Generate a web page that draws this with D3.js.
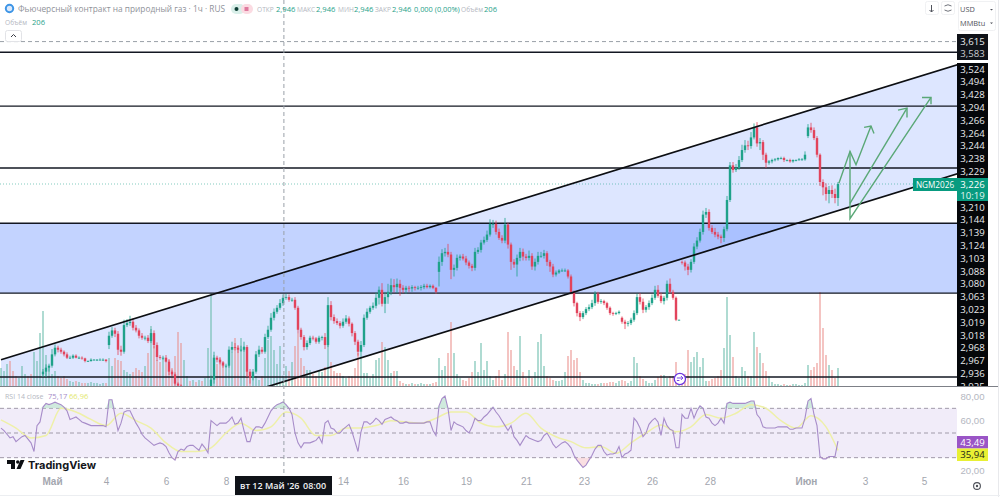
<!DOCTYPE html>
<html lang="ru">
<head>
<meta charset="utf-8">
<title>NGM2026</title>
<script src="https://cdn.jsdelivr.net/npm/d3@7/dist/d3.min.js"></script>
<style>
html,body{margin:0;padding:0;background:#fff;overflow:hidden}
svg{display:block;font-family:"Open Sans","Noto Sans",sans-serif}
</style>
</head>
<body>
<svg id="chart" width="1000" height="497"></svg>
<script>
// Hourly closes per trading session, in thousandths of a dollar per MMBtu
const closesEarly = [2905,2908,2912,2910,2906,2904,2908,2912,2915,2910,2906,2908,2912,2918];
const closesSessionA = [2944,2950,2953,2970,2980,2977,2974,2970,2965,2965,2968,2965,2965,2964,2960,2960,2962,2962,2962,2962,2962,2960];
const closesSessionB = [2998,3006,3001,2977,2974,3014,3017,3019,3010,3006,2998,2995,2995,2990,3002,2984,2966,2965,2965,2959,2944,2940,2926,2923,2914,2914,2914,2911,2914,2911,2911,2910,2914,2917,2932,2965,2962,2958,2953,2953,2977,2981,2980,2977,2977,2981,2944,2935,2944,2970,2977,2974,2996,3007,3025,3034,3040,3047,3055,3056,3052,3052,3040,3007,2996,2981,2987,2995,2994,2989,2995,2996,2984,3044,3026,3020,3017,3013,3019,3024,3016,3002,2989,2974,2984,3025,3034,3040,3043,3055,3067,3046,3056,3064,3074,3071,3076,3070,3067,3070,3069,3071,3070,3070,3071,3073,3071,3073,3070,3064];
const closesSessionC = [3109,3122,3124,3120,3097,3100,3115,3117,3114,3108,3103,3100,3124,3127,3138,3142,3150,3166,3166,3154,3145,3141,3165,3135,3109,3105,3115,3124,3117,3115,3118,3102,3109,3118,3118,3122,3109,3102,3090,3093,3096,3096,3096,3087,3064,3047,3032,3026,3032,3038,3041,3047,3061,3049,3050,3047,3040,3032,3031,3032,3034];
const closesSessionD = [3019,3016,3017,3022,3032,3056,3049,3037,3041,3047,3055,3067,3058,3050,3055,3076,3064,3055,3022,3022];
const closesSessionE = [3108,3102,3097,3109,3132,3141,3154,3180,3184,3160,3154,3150,3147,3145,3158,3202,3254,3247,3250,3262,3277,3284,3283,3296,3311,3287,3289,3270,3258,3260,3262,3263,3265,3265,3262,3262,3260,3262,3262,3263,3263,3270];
const closesSessionF = [3311,3307,3295,3270,3229,3221,3211,3217,3211,3205,3226];
const sessionOpens = [2903,2940,2984,3094,3025,3109,3298];

const wickHigh = [3,2,4,2,3,2,3,2,3,4,2,3,4,3,
4,5,3,8,5,3,3,2,3,3,2,2,2,2,1,1,2,1,1,2,2,1,
6,5,4,4,6,8,6,9,5,4,3,4,3,4,6,4,4,3,3,4,4,3,3,2,2,2,2,2,2,2,2,2,2,2,6,9,3,4,2,3,5,8,6,4,6,8,3,4,4,5,6,4,5,6,7,5,4,6,5,5,4,3,4,3,3,3,4,3,3,2,3,2,6,12,6,4,4,3,5,5,3,2,3,3,6,5,5,3,5,8,5,10,8,12,10,9,8,6,4,3,3,3,2,3,3,3,3,2,2,1,
8,6,6,12,4,5,5,3,4,4,3,3,6,4,4,5,6,7,6,5,5,4,10,3,3,4,5,6,5,4,8,4,5,6,6,5,3,3,4,3,2,3,3,2,3,2,2,3,3,3,4,5,4,3,3,2,2,2,2,2,2,
2,3,3,3,4,5,6,5,3,4,5,6,7,5,3,5,8,3,2,0,
2,3,4,4,5,5,5,6,6,4,4,6,4,3,4,6,5,5,6,6,8,8,7,8,6,8,6,3,3,2,2,2,1,2,2,1,2,1,1,2,2,5,
5,7,4,3,2,4,6,6,7,8,3];
const wickLow = [3,2,3,4,2,3,2,3,4,2,3,3,2,4,
4,8,6,3,3,4,3,3,2,2,2,1,2,2,2,1,1,1,2,1,2,2,
6,3,5,8,6,3,3,4,4,3,4,3,4,3,3,5,6,3,3,3,5,3,3,3,2,2,2,2,2,2,2,2,2,2,8,6,4,3,3,3,3,4,4,5,3,3,8,9,4,3,4,3,3,3,3,4,3,3,4,3,3,3,3,5,4,5,4,3,3,3,3,4,6,3,5,4,3,4,3,3,4,5,5,6,8,3,3,3,3,4,10,4,14,10,5,8,9,12,5,6,5,5,4,3,4,3,2,2,2,3,
22,6,5,4,14,10,4,4,3,4,4,5,4,3,4,3,3,3,6,4,3,4,4,6,12,5,18,5,6,4,4,5,6,4,3,4,6,8,4,3,2,2,2,3,4,5,5,6,3,3,3,3,4,3,3,3,3,3,3,2,2,
3,8,4,3,3,3,4,5,4,4,3,3,3,3,5,4,3,3,2,1,
3,6,8,4,3,4,3,4,5,4,3,4,4,8,6,3,3,4,3,3,3,4,6,4,3,5,10,8,8,3,3,2,2,2,3,2,2,2,2,1,2,2,
3,4,3,4,6,12,10,14,6,8,12];

// Contracts traded per bar
const volumes = [360,300,440,500,300,200,160,400,240,200,240,680,500,1060,
1500,620,400,240,300,200,160,200,140,100,80,100,80,60,60,60,80,60,60,40,60,60,
560,400,560,520,500,320,280,240,280,360,320,280,400,660,1200,800,520,480,560,440,520,360,600,1080,860,520,200,100,120,80,120,100,160,760,1860,620,440,560,400,400,520,680,960,800,960,800,680,280,160,200,120,200,560,920,1000,720,440,800,206,400,300,480,800,1060,
560,400,320,320,240,200,300,280,380,1200,480,300,260,260,200,160,200,200,360,660,580,260,260,160,240,520,560,880,780,520,260,300,300,100,60,40,40,60,40,40,60,40,40,40,60,80,
560,320,400,660,1280,660,240,160,120,100,160,280,500,280,860,320,500,200,120,200,320,120,240,1080,720,400,320,1000,280,160,320,160,280,880,1040,400,200,160,120,100,100,120,280,600,720,520,560,280,120,60,60,40,40,40,
60,60,60,80,80,60,100,120,100,60,100,580,460,200,140,100,60,60,120,180,220,220,160,200,200,480,160,160,240,720,480,580,680,380,560,100,100,140,160,200,320,760,1780,1020,580,200,160,380,300,200,200,1080,780,660,460,300,200,80,40,40,20,40,20,20,40,40,20,20,60,420,320,380,460,1880,1160,620,420,320,160,360];

// RSI(14) per bar
const rsiValues = [54,52,49,46,47,43,45,47,48,45,42,35,56,59,71,74,73,74,75,74,73,71,68,61,62,63,61,59,58,57,56,56,56,56,56,55,77,77,64,52,58,67,68,68,63,58,54,49,46,44,42,40,41,42,41,39,34,30,28,35,37,36,39,40,40,38,36,41,38,34,60,58,56,58,58,58,60,63,57,58,62,52,43,43,52,55,55,54,58,63,68,71,73,74,75.17,73,70,65,50,42,
38,42,42,42,43,44,47,42,58,60,54,53,50,50,53,55,57,51,43,35,51,59,59,57,59,62,60,57,61,62,63,61,60,58,58,59,58,58,58,58,58,58,59,59,52,48,72,78,80,70,52,59,57,56,55,52,50,55,62,60,60,63,65,68,71,67,64,60,56,52,56,47,44,40,44,48,46,45,44,43,44,48,50,46,41,38,40,42,43,41,38,32,28,25,22,24,28,32,37,40,
40,35,32,33,33,34,39,30,33,34,36,62,59,54,47,50,57,60,62,59,48,62,56,53,52,38,38,65,62,62,70,62,68,72,70,63,62,58,56,58,62,58,74,75,74,74,74,74,74,75,76,76,65,62,55,54,54,54,54,55,55,55,55,53,53,54,54,54,62,76,78,65,56,31,29,29,31,31,31,43.49];

// Moving average of the RSI, sampled every fifth bar, with the newest bar last
const rsiMaValues = [60.6,54,46,48,70,67,61,56,66,60,54,42,35,35,38,50,58,52,55,66.96,62,48,48,54,54,56,60,59,58,62,67,67,58,55,58,66,54,47,43,38,39,33.5,42,50,56.5,51,55,65,62,66,73,70,60,54,64,55,35.94];
const rsiMaBars = [...d3.range(0, 280, 5), 279];

// Horizontal drawing levels and the sloped channel anchors (bar, price)
const levelPrices = [3424, 3343, 3250, 3167, 3062, 2936];
const zoneLevels = [3167, 3062];
const channelUpper = [[0, 2962], [319.3, 3406]];
const channelLower = [[0, 2798], [319.3, 3242]];
const forecastPaths = [
  [[279.3,3227],[283,3275],[285,3255],[290,3313]],
  [[287.7,3311],[290,3313],[291,3302]],
  [[283,3275],[283,3174],[310,3356]],
  [[283,3197],[302,3340]],
  [[299,3337],[302,3340],[302,3326]],
  [[307,3356],[310,3356],[310,3346]]
];

const tickBars = [17, 35, 55, 75, 114, 134, 155, 175, 194.3, 217, 236.3, 268.3, 288, 307.7];
const tickLabels = ["Май","4","6","8","14","16","19","21","23","26","28","Июн","3","5"];
const priceLabelsUpper = ["3,524","3,494","3,428","3,294","3,266","3,264","3,244","3,238","3,229"];
const priceLabelsLower = ["3,210","3,144","3,139","3,124","3,103","3,088","3,080","3,063","3,023","3,019","3,018","2,968","2,967","2,936","2,925"];
const lastPrice = 3226, hoverBar = 94.3, hoverPrice = 3440;

const closes = [...closesEarly, ...closesSessionA, ...closesSessionB, ...closesSessionC, ...closesSessionD, ...closesSessionE, ...closesSessionF];
const sessionStarts = d3.cumsum([closesEarly, closesSessionA, closesSessionB, closesSessionC, closesSessionD, closesSessionE].map(s => s.length));
const openOverride = new Map([[0, sessionOpens[0]], ...Array.from(sessionStarts, (s, i) => [s, sessionOpens[i + 1]])]);
const bars = closes.map((c, i) => {
  const o = openOverride.has(i) ? openOverride.get(i) : closes[i - 1];
  return {i, o, c, h: Math.max(o, c) + (wickHigh[i] || 0), l: Math.min(o, c) - (wickLow[i] || 0), v: volumes[i] || 0, up: c >= o};
});

const W = 1000, H = 497, paneR = 957, paneB = 386;
const x = d3.scaleLinear().domain([0, 100]).range([1, 301]);
const y = d3.scaleLinear().domain([2936, 3226]).range([377, 184]);
const yVol = d3.scaleLinear().domain([0, 2000]).range([paneB, paneB - 100]);
const yRsi = d3.scaleLinear().domain([20, 80]).range([470, 396]);

const UP = "#1fa28a", DOWN = "#e2445c", INK = "#131722";
const ruNum = d3.formatLocale({decimal: ",", thousands: " ", grouping: [3], currency: ["", ""]}).format(".2f");

const svg = d3.select("#chart");
const defs = svg.append("defs");
defs.append("clipPath").attr("id", "main").append("rect").attr("width", paneR).attr("height", paneB);
defs.append("clipPath").attr("id", "osc").append("rect").attr("y", paneB).attr("width", paneR).attr("height", 90);
defs.append("clipPath").attr("id", "scale").append("rect").attr("x", paneR).attr("y", 0).attr("width", 40).attr("height", paneB);

// Price pane
const main = svg.append("g").attr("clip-path", "url(#main)");

const channelPoly = [...channelUpper, ...channelLower.slice().reverse()];
main.append("path")
  .attr("d", d3.line().x(d => x(d[0])).y(d => y(d[1]))(channelPoly) + "Z")
  .attr("fill", "rgba(41,98,255,.16)");
main.append("rect")
  .attr("x", 0).attr("width", paneR)
  .attr("y", y(zoneLevels[0])).attr("height", y(zoneLevels[1]) - y(zoneLevels[0]))
  .attr("fill", "rgba(41,98,255,.28)");

main.append("g").selectAll("rect").data(bars).join("rect")
  .attr("x", d => x(d.i) - 1).attr("width", 2)
  .attr("y", d => yVol(d.v)).attr("height", d => paneB - yVol(d.v))
  .attr("fill", d => d.up ? "#5fb8a6" : "#ea8a86").attr("opacity", .5);

main.append("line").attr("x1", 0).attr("x2", paneR).attr("y1", y(lastPrice)).attr("y2", y(lastPrice))
  .attr("stroke", UP).attr("stroke-opacity", .55).attr("stroke-dasharray", "1 2");

main.append("g").selectAll("line").data(levelPrices).join("line")
  .attr("x1", 0).attr("x2", paneR).attr("y1", d => y(d)).attr("y2", d => y(d))
  .attr("stroke", INK).attr("stroke-width", 1.4);

const candles = main.append("g").selectAll("g").data(bars).join("g")
  .attr("fill", d => d.up ? UP : DOWN).attr("stroke", d => d.up ? UP : DOWN);
candles.append("line").attr("x1", d => x(d.i)).attr("x2", d => x(d.i)).attr("y1", d => y(d.h)).attr("y2", d => y(d.l)).attr("stroke-width", .8);
candles.append("rect").attr("stroke", "none")
  .attr("x", d => x(d.i) - 1.2).attr("width", 2.4)
  .attr("y", d => y(Math.max(d.o, d.c))).attr("height", d => Math.max(.8, Math.abs(y(d.o) - y(d.c))));

const priceLine = d3.line().x(d => x(d[0])).y(d => y(d[1]));
main.append("g").selectAll("path").data([channelUpper, channelLower]).join("path")
  .attr("d", priceLine).attr("fill", "none").attr("stroke", "#0c0e12").attr("stroke-width", 1.7);
main.append("g").selectAll("path").data(forecastPaths).join("path")
  .attr("d", priceLine).attr("fill", "none").attr("stroke", "#5aa877").attr("stroke-width", 1.4);

// Session-change marker on the volume row
const marker = main.append("g").attr("transform", `translate(${x(226.3)},${y(2933)})`);
marker.append("circle").attr("r", 5.6).attr("fill", "#fff").attr("stroke", "#6d35e0").attr("stroke-width", 1.3);
marker.append("path").attr("d", "M-3,-1H3M1,-3L3,-1L1,1M-3,1.5H-.5").attr("fill", "none").attr("stroke", "#6d35e0").attr("stroke-width", .9);

// RSI pane
const osc = svg.append("g").attr("clip-path", "url(#osc)");
osc.append("rect").attr("x", 0).attr("width", paneR).attr("y", yRsi(70)).attr("height", yRsi(30) - yRsi(70)).attr("fill", "#f1ecf9");
osc.append("g").selectAll("line").data([70, 50, 30]).join("line")
  .attr("x1", 0).attr("x2", paneR).attr("y1", d => yRsi(d)).attr("y2", d => yRsi(d))
  .attr("stroke", "#a09aa9").attr("stroke-dasharray", "4 3");
osc.append("path")
  .attr("d", d3.area().x((d, i) => x(i)).y0(yRsi(70)).y1(d => yRsi(Math.max(d, 70)))(rsiValues))
  .attr("fill", "#bfe3d2").attr("opacity", .75);
osc.append("path")
  .attr("d", d3.area().x((d, i) => x(i)).y0(yRsi(30)).y1(d => yRsi(Math.min(d, 30)))(rsiValues))
  .attr("fill", "#f6c9cf").attr("opacity", .6);
osc.append("path")
  .attr("d", d3.line().x((d, i) => x(rsiMaBars[i])).y(d => yRsi(d)).curve(d3.curveMonotoneX)(rsiMaValues))
  .attr("fill", "none").attr("stroke", "#eef0a8").attr("stroke-width", 1.5);
osc.append("path")
  .attr("d", d3.line().x((d, i) => x(i)).y(d => yRsi(d))(rsiValues))
  .attr("fill", "none").attr("stroke", "#a78cc9").attr("stroke-width", 1.1);

// Pane dividers and crosshair
svg.append("line").attr("x1", 0).attr("x2", 998).attr("y1", paneB + .5).attr("y2", paneB + .5).attr("stroke", "#7d8087");
svg.append("line").attr("x1", 998.5).attr("x2", 998.5).attr("y1", 0).attr("y2", H).attr("stroke", "#e8e9ec");
svg.append("line").attr("x1", 0).attr("x2", W).attr("y1", 495.5).attr("y2", 495.5).attr("stroke", "#eceef1");
svg.append("line").attr("x1", 0).attr("x2", paneR).attr("y1", y(hoverPrice)).attr("y2", y(hoverPrice))
  .attr("stroke", "#9aa0a8").attr("stroke-dasharray", "4 3");
svg.append("line").attr("x1", x(hoverBar)).attr("x2", x(hoverBar)).attr("y1", 0).attr("y2", 476)
  .attr("stroke", "#9aa0a8").attr("stroke-dasharray", "4 3");

// Time axis
const timeAxis = d3.axisBottom(x).tickValues(tickBars).tickSize(0).tickPadding(0)
  .tickFormat((d, i) => tickLabels[i]);
const timeG = svg.append("g").attr("transform", "translate(0,478)").call(timeAxis);
timeG.select(".domain").remove();
timeG.selectAll("text").attr("fill", "#a3a6ae").attr("font-size", 10).attr("font-family", "inherit").attr("dy", ".72em").attr("y", 0);
timeG.selectAll("text").filter((d, i) => tickLabels[i] === "Июн" || tickLabels[i] === "Май").attr("font-weight", 600);

svg.append("rect").attr("x", 235).attr("y", 476).attr("width", 97).attr("height", 19).attr("fill", "#0f1218");
svg.append("text").attr("x", 240).attr("y", 489).attr("fill", "#f2f3f5").attr("font-size", 9).attr("font-weight", 600).text("вт 12 Май '26");
svg.append("text").attr("x", 303).attr("y", 489).attr("fill", "#f2f3f5").attr("font-size", 9).attr("font-weight", 600).text("08:00");

// Price scale: stacked labels of the drawn levels
const chipFont = 9.6;
svg.append("rect").attr("x", paneR).attr("y", 34).attr("width", 31).attr("height", 26).attr("fill", "#0f1218");
svg.append("rect").attr("x", paneR).attr("y", 63).attr("width", 31).attr("height", 115).attr("fill", "#05070a");
svg.append("rect").attr("x", paneR).attr("y", 201).attr("width", 31).attr("height", 185).attr("fill", "#05070a");
const chipText = (sel, color) => sel.attr("x", paneR + 15.5).attr("text-anchor", "middle").attr("fill", color).attr("font-size", chipFont).attr("dominant-baseline", "central");
chipText(svg.append("text").attr("y", 41), "#e9eaec").text("3,615");
chipText(svg.append("text").attr("y", 53), "#c9cbcf").text("3,583");
const stackUpper = d3.scaleLinear().domain([0, 8]).range([69, 171.4]);
const stackLower = d3.scaleLinear().domain([0, 13]).range([207, 373.4]);
svg.append("g").selectAll("text").data(priceLabelsUpper).join("text")
  .call(chipText, "#e9eaec").attr("y", (d, i) => stackUpper(i)).text(d => d);
svg.append("g").attr("clip-path", "url(#scale)").selectAll("text").data(priceLabelsLower).join("text")
  .call(chipText, "#e9eaec").attr("y", (d, i) => stackLower(i)).text(d => d);

svg.append("rect").attr("x", 913).attr("y", 178).attr("width", 44).attr("height", 13).attr("fill", "#089b80");
svg.append("text").attr("x", 935).attr("y", 184.5).attr("text-anchor", "middle").attr("dominant-baseline", "central").attr("fill", "#fff").attr("font-size", 8.2).text("NGM2026");
svg.append("rect").attr("x", paneR).attr("y", 178).attr("width", 31).attr("height", 23).attr("fill", "#089b80");
chipText(svg.append("text").attr("y", 184), "#fff").text("3,226");
chipText(svg.append("text").attr("y", 195), "#e3f5f0").text("10:19");

// RSI scale
const rsiAxis = d3.axisRight(yRsi).tickValues([80, 60, 20]).tickSize(0).tickPadding(0).tickFormat(ruNum);
const rsiG = svg.append("g").attr("transform", `translate(${paneR + 15.5},0)`).call(rsiAxis);
rsiG.select(".domain").remove();
rsiG.selectAll("text").attr("text-anchor", "middle").attr("x", 0).attr("fill", "#b4b7bf").attr("font-size", chipFont).attr("font-family", "inherit");
svg.append("rect").attr("x", paneR).attr("y", 436).attr("width", 31).attr("height", 12.5).attr("fill", "#9a55c6");
chipText(svg.append("text").attr("y", 442), "#fff").text("43,49");
svg.append("rect").attr("x", paneR).attr("y", 448.5).attr("width", 31).attr("height", 12.5).attr("fill", "#e8f034");
chipText(svg.append("text").attr("y", 454.7), "#23251a").text("35,94");

// Legend rows
const legend = (px, py, text, fill, size = 8) =>
  svg.append("text").attr("x", px).attr("y", py).attr("fill", fill).attr("font-size", size).text(text);

svg.append("circle").attr("cx", 9.5).attr("cy", 8.5).attr("r", 3.7).attr("fill", "#dbe9fb").attr("stroke", "#3e95e6").attr("stroke-width", 2);
legend(18, 12, "Фьючерсный контракт на природный газ · 1ч · RUS", "#8f9299", 9)
  .attr("textLength", 207).attr("lengthAdjust", "spacingAndGlyphs");
svg.append("rect").attr("x", 231).attr("y", 4).attr("width", 14).attr("height", 10).attr("rx", 5).attr("fill", "#d9efe9");
svg.append("rect").attr("x", 241).attr("y", 4).attr("width", 12).attr("height", 10).attr("rx", 5).attr("fill", "#fbdbe2");
svg.append("circle").attr("cx", 236.5).attr("cy", 9).attr("r", 2).attr("fill", "#0f3f36");
svg.append("path").attr("d", "M244.5,8H248.5M244.5,10H248.5").attr("stroke", "#c2185b").attr("stroke-width", 1);

const ohlcLabels = ["ОТКР", "МАКС", "МИН", "ЗАКР"];
const ohlcX = [257, 297, 338, 375];
const ohlcValueX = [276, 316, 354, 392];
ohlcLabels.forEach((t, i) => {
  legend(ohlcX[i], 12, t, "#b4b7bf", 6.6);
  legend(ohlcValueX[i], 12, "2,946", UP, 7.6);
});
legend(414, 12, "0,000 (0,00%)", UP, 7.4);
legend(461, 12, "Объём", "#b4b7bf", 6.6);
legend(484, 12, "206", UP, 7.6);
legend(5, 25, "Объём", "#b4b7bf", 6.6);
legend(32, 25, "206", UP, 7.6);

svg.append("rect").attr("x", 5.5).attr("y", 30.5).attr("width", 16).attr("height", 11).attr("rx", 2).attr("fill", "#fff").attr("stroke", "#e2e3e7");
svg.append("path").attr("d", "M11,37L13.5,34.5L16,37").attr("fill", "none").attr("stroke", "#3b3e46").attr("stroke-width", 1);

legend(5, 399, "RSI 14 close", "#b4b7bf", 7);
legend(48, 399, "75,17", "#a78cc9", 7.6);
legend(69, 399, "66,96", "#e3e86f", 7.6);

// Toolbar at the top right
svg.append("rect").attr("x", 925.5).attr("y", 1.5).attr("width", 13).attr("height", 13).attr("rx", 2).attr("fill", "#fff").attr("stroke", "#f0f1f3");
svg.append("rect").attr("x", 941.5).attr("y", 1.5).attr("width", 13).attr("height", 13).attr("rx", 2).attr("fill", "#fff").attr("stroke", "#f0f1f3");
svg.append("path").attr("d", "M931.5,5V12M929.5,10L931.5,12L933.5,10").attr("fill", "none").attr("stroke", "#50535c");
svg.append("path").attr("d", "M944.5,6Q948,3.5 951.5,6M944.5,10Q948,12.5 951.5,10").attr("fill", "none").attr("stroke", "#70737b");
svg.append("rect").attr("x", 958.5).attr("y", 1.5).attr("width", 37).attr("height", 29).attr("rx", 2).attr("fill", "#fff").attr("stroke", "#f0f1f3");
legend(960, 12, "USD", "#50535c", 7.4);
legend(960, 26, "MMBtu", "#50535c", 7.4);
svg.append("path").attr("d", "M990,9L993,9L991.5,10.5ZM990,22.5L993,22.5L991.5,24Z").attr("fill", "#50535c");

// Footer logotype and settings icon
svg.append("path").attr("d", "M7,460H15V469H11V464H7ZM20.5,460H24.5L20.5,469H16.5Z").attr("fill", "#0c0e12");
svg.append("circle").attr("cx", 17.8).attr("cy", 462).attr("r", 1.8).attr("fill", "#0c0e12");
svg.append("text").attr("x", 28).attr("y", 469).attr("fill", "#14161b").attr("font-size", 11).attr("font-weight", 700)
  .attr("font-family", "Inter, Roboto, sans-serif").text("TradingView");

svg.append("circle").attr("cx", 977).attr("cy", 486).attr("r", 3.4).attr("fill", "none").attr("stroke", "#4d5058").attr("stroke-width", 1.1);
svg.append("circle").attr("cx", 977).attr("cy", 486).attr("r", 1.2).attr("fill", "#4d5058");
</script>
</body>
</html>
